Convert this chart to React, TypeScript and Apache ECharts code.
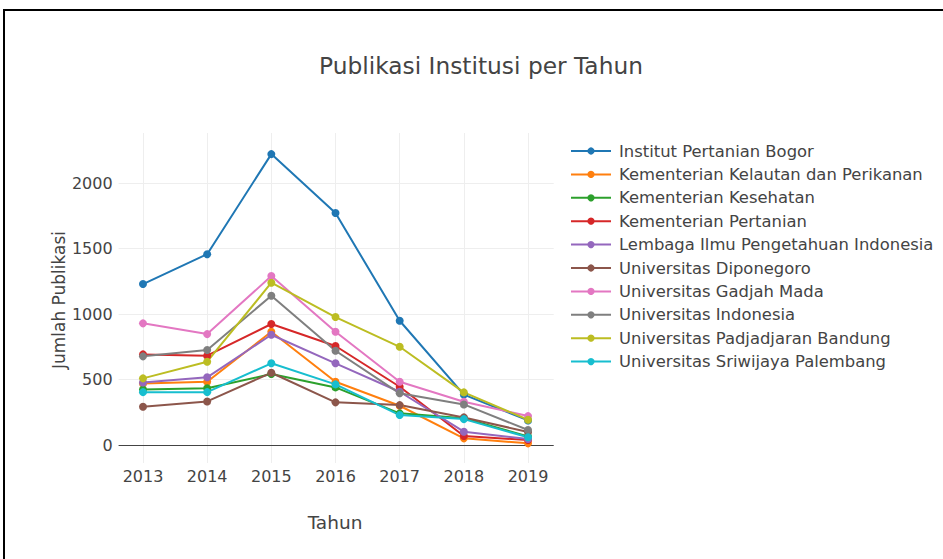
import React, { useEffect, useRef } from "react";
import * as echarts from "echarts";

const years = [2013, 2014, 2015, 2016, 2017, 2018, 2019];
const seriesNames = [
  "Institut Pertanian Bogor",
  "Kementerian Kelautan dan Perikanan",
  "Kementerian Kesehatan",
  "Kementerian Pertanian",
  "Lembaga Ilmu Pengetahuan Indonesia",
  "Universitas Diponegoro",
  "Universitas Gadjah Mada",
  "Universitas Indonesia",
  "Universitas Padjadjaran Bandung",
  "Universitas Sriwijaya Palembang",
];
const ipb = [1229, 1457, 2221, 1771, 949, 385, 188];
const kkp = [470, 483, 865, 483, 300, 51, 13];
const kemenkes = [425, 433, 542, 440, 242, 205, 65];
const kementan = [692, 682, 924, 756, 445, 69, 38];
const lipi = [478, 517, 842, 624, 407, 102, 46];
const undip = [292, 333, 552, 326, 305, 211, 100];
const ugm = [929, 847, 1290, 865, 483, 331, 221];
const ui = [677, 725, 1140, 720, 395, 310, 115];
const unpad = [509, 636, 1239, 977, 750, 402, 193];
const unsri = [404, 404, 624, 463, 229, 198, 59];
const allValues = [ipb, kkp, kemenkes, kementan, lipi, undip, ugm, ui, unpad, unsri];
const colors = [
  "#1f77b4", "#ff7f0e", "#2ca02c", "#d62728", "#9467bd",
  "#8c564b", "#e377c2", "#7f7f7f", "#bcbd22", "#17becf",
];
const yTicks = [0, 500, 1000, 1500, 2000];

const FONT = "DejaVu Sans";

export default function App() {
  const ref = useRef<HTMLDivElement>(null);
  useEffect(() => {
    if (!ref.current) return;
    const chart = echarts.init(ref.current, undefined, { renderer: "svg" });
    const series: any[] = seriesNames.map((name, i) => ({
      name,
      type: "line",
      data: years.map((y, j) => [y, allValues[i][j]]),
      symbol: "circle",
      symbolSize: 8,
      showSymbol: true,
      lineStyle: { width: 2, color: colors[i] },
      itemStyle: { color: colors[i] },
      z: 3,
    }));
    series[0].markLine = {
      silent: true,
      symbol: ["none", "none"],
      label: { show: false },
      lineStyle: { color: "#444", width: 1, type: "solid" },
      data: [{ yAxis: 0 }],
      z: 1,
    };
    chart.setOption({
      animation: false,
      backgroundColor: "#fff",
      color: colors,
      grid: { left: 118.6, right: 389.3, top: 133, bottom: 96, containLabel: false },
      xAxis: {
        type: "value",
        min: 2012.62,
        max: 2019.4,
        axisLine: { show: false },
        axisTick: { show: false, customValues: years },
        axisLabel: {
          customValues: years,
          color: "#444",
          fontFamily: FONT,
          fontSize: 16,
          margin: 5,
          formatter: (v: number) => String(v),
        },
        splitLine: { show: true, lineStyle: { color: "#eee", width: 1 } },
      },
      yAxis: {
        type: "value",
        min: -137,
        max: 2382,
        axisLine: { show: false },
        axisTick: { show: false, customValues: yTicks },
        axisLabel: {
          customValues: yTicks,
          color: "#444",
          fontFamily: FONT,
          fontSize: 16,
          margin: 6,
          formatter: (v: number) => String(v),
        },
        splitLine: { show: true, lineStyle: { color: "#eee", width: 1 } },
      },
      legend: {
        orient: "vertical",
        left: 570,
        top: 143,
        padding: 0,
        itemWidth: 40,
        itemHeight: 9,
        itemGap: 7.4,
        data: seriesNames,
        textStyle: { color: "#444", fontFamily: FONT, fontSize: 16.4, lineHeight: 14, padding: [0, 0, 0, 3] },
      },
      graphic: [
        {
          type: "rect",
          shape: { x: 4, y: 10, width: 1200, height: 800 },
          style: { fill: "none", stroke: "#000", lineWidth: 2 },
          silent: true,
          z: 100,
        },
        {
          type: "text",
          x: 481,
          y: 65,
          style: {
            text: "Publikasi Institusi per Tahun",
            fill: "#444",
            fontFamily: FONT,
            fontSize: 23.3,
            align: "center",
            verticalAlign: "middle",
          },
        },
        {
          type: "text",
          x: 335,
          y: 522,
          style: {
            text: "Tahun",
            fill: "#444",
            fontFamily: FONT,
            fontSize: 18.5,
            align: "center",
            verticalAlign: "middle",
          },
        },
        {
          type: "text",
          x: 59,
          y: 300,
          rotation: Math.PI / 2,
          style: {
            text: "Jumlah Publikasi",
            fill: "#444",
            fontFamily: FONT,
            fontSize: 17,
            align: "center",
            verticalAlign: "middle",
          },
        },
      ],
      series,
    });
    return () => chart.dispose();
  }, []);
  return (
    <div
      ref={ref}
      style={{ position: "fixed", left: 0, top: 0, width: 943, height: 559 }}
    />
  );
}
